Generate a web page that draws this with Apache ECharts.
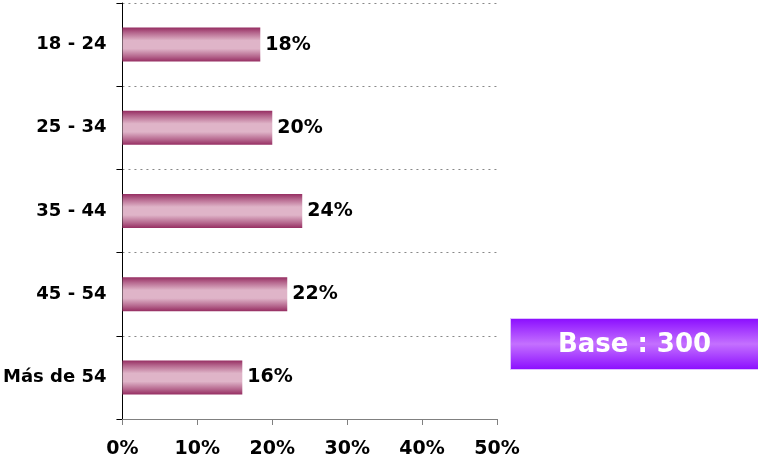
<!DOCTYPE html>
<html>
<head>
<meta charset="utf-8">
<script src="https://cdn.jsdelivr.net/npm/echarts@6/dist/echarts.min.js"></script>
<style>
	html, body { margin: 0; padding: 0; background: #fff; }
	#chart { width: 758px; height: 462px; }
</style>
</head>
<body>
<div id="chart"></div>
<script>
	// tramos de edad, de arriba a abajo
	var categories = ['18 - 24', '25 - 34', '35 - 44', '45 - 54', 'Más de 54'];
	var values = [18.4, 20, 24, 22, 16];
	var xTicks = [0, 10, 20, 30, 40, 50];
	var baseText = 'Base : 300';

	var font = 'DejaVu Sans, Verdana, sans-serif';

	var barColor = new echarts.graphic.LinearGradient(0, 0, 0, 1, [
		{ offset: 0, color: '#962e62' },
		{ offset: 0.15, color: '#b5668d' },
		{ offset: 0.38, color: '#dfb4c8' },
		{ offset: 0.62, color: '#dfb4c8' },
		{ offset: 0.85, color: '#b5668d' },
		{ offset: 1, color: '#962e62' }
	]);

	var chart = echarts.init(document.getElementById('chart'));
	chart.setOption({
		animation: false,
		backgroundColor: '#ffffff',
		grid: {
			left: 122,
			right: 261,
			top: 3,
			bottom: 43
		},
		xAxis: {
			type: 'value',
			min: xTicks[0],
			max: xTicks[xTicks.length - 1],
			interval: 10,
			axisLine: { show: true, lineStyle: { color: '#808080', width: 1 } },
			axisTick: { show: true, length: 6, lineStyle: { color: '#808080' } },
			splitLine: { show: false },
			axisLabel: {
				margin: 21,
				color: '#000',
				fontFamily: font,
				fontWeight: 'bold',
				fontSize: 19,
				formatter: '{value}%'
			}
		},
		yAxis: {
			type: 'category',
			inverse: true,
			data: categories,
			axisLine: { show: true, lineStyle: { color: '#000', width: 1 } },
			axisTick: { show: true, length: 6, lineStyle: { color: '#000' } },
			splitLine: {
				show: true,
				lineStyle: { color: '#888', type: [2, 4], width: 1 }
			},
			axisLabel: {
				margin: 16,
				color: '#000',
				fontFamily: font,
				fontWeight: 'bold',
				fontSize: 18,
				padding: [3, 0, 0, 0]
			}
		},
		series: [{
			type: 'bar',
			data: values,
			barWidth: 34,
			itemStyle: { color: barColor },
			label: {
				show: true,
				position: 'right',
				distance: 5,
				color: '#000',
				fontFamily: font,
				fontWeight: 'bold',
				fontSize: 19,
				formatter: function (p) {
					return Math.round(p.value) + '%';
				}
			}
		}],
		graphic: [{
			type: 'group',
			left: 510,
			top: 318,
			children: [{
				type: 'rect',
				shape: { x: 0, y: 0, width: 248, height: 51 },
				style: {
					fill: new echarts.graphic.LinearGradient(0, 0, 0, 1, [
						{ offset: 0, color: '#8a0cff' },
						{ offset: 0.5, color: '#c470ff' },
						{ offset: 1, color: '#8a0cff' }
					]),
					stroke: '#e0c0ff',
					lineWidth: 1
				}
			}, {
				type: 'text',
				x: 124,
				y: 27,
				style: {
					text: baseText,
					fill: '#fff',
					font: 'bold 26px ' + font,
					align: 'center',
					verticalAlign: 'middle'
				}
			}]
		}]
	});
</script>
</body>
</html>
